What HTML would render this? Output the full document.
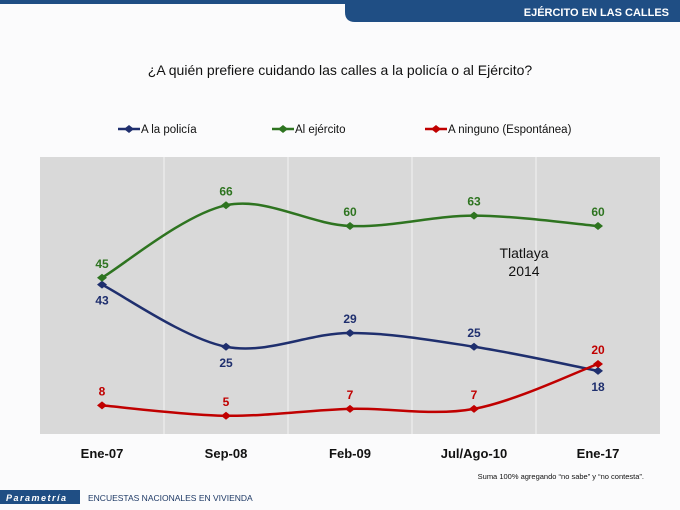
<!DOCTYPE html>
<html><head><meta charset="utf-8"><style>
body{margin:0;width:680px;height:510px;overflow:hidden;background:#fff;font-family:"Liberation Sans",sans-serif;}
svg{position:absolute;left:0;top:0}
</style></head><body>
<svg width="680" height="510">
<rect x="0" y="0" width="680" height="510" fill="#fbfbfc"/>
<rect x="0" y="0" width="680" height="4" fill="#1f4e84"/>
<path d="M345 0 H680 V22 H355 Q345 22 345 12 Z" fill="#1f4e84"/>
<text x="669" y="16" text-anchor="end" font-size="11" font-weight="bold" fill="#fff">EJÉRCITO EN LAS CALLES</text>
<text x="340" y="75" text-anchor="middle" font-size="14" fill="#111">¿A quién prefiere cuidando las calles a la policía o al Ejército?</text>
<g id="legend"></g>
<rect x="40" y="157" width="620" height="277" fill="#d9d9d9"/>
<g id="grid"></g><g id="series"></g><g id="xlabels"></g>
<text x="524" y="258" text-anchor="middle" font-size="14" fill="#111">Tlatlaya</text>
<text x="524" y="276" text-anchor="middle" font-size="14" fill="#111">2014</text>
<text x="644" y="479" text-anchor="end" font-size="7.5" fill="#111">Suma 100% agregando “no sabe” y “no contesta”.</text>
<rect x="0" y="490" width="80" height="14" fill="#1f4e84"/>
<text x="6" y="501" font-size="9" font-style="italic" font-weight="bold" fill="#fff" letter-spacing="1.5">Parametría</text>
<text x="88" y="501" font-size="8.5" fill="#1f3a66">ENCUESTAS NACIONALES EN VIVIENDA</text>
</svg>
<script>
const categories=["Ene-07","Sep-08","Feb-09","Jul/Ago-10","Ene-17"];
const seriesNames=["A la policía","Al ejército","A ninguno (Espontánea)"];
const policia=[43,25,29,25,18];
const ejercito=[45,66,60,63,60];
const ninguno=[8,5,7,7,20];
const colors=["#1f2f6e","#2e7420","#c00000"];
const NS="http://www.w3.org/2000/svg";
const X0=40,X1=660,Y0=157,Y1=433,VMAX=80;
const bw=(X1-X0)/categories.length;
const xs=i=>X0+bw*(i+0.5);
const ys=v=>Y1-(v/VMAX)*(Y1-Y0);
function mk(t,a,p){const e=document.createElementNS(NS,t);for(const k in a)e.setAttribute(k,a[k]);p.appendChild(e);return e;}
const grid=document.getElementById('grid');
for(let i=1;i<categories.length;i++){const l=mk('line',{x1:X0+bw*i,x2:X0+bw*i,y1:Y0,y2:Y1+1,stroke:'#f4f4f4','stroke-width':1},grid);

}
const xl=document.getElementById('xlabels');
categories.forEach((c,i)=>{const t=mk('text',{x:xs(i),y:458,'text-anchor':'middle','font-size':13,'font-weight':'bold',fill:'#111'},xl);t.textContent=c;

});
const data=[policia,ejercito,ninguno];
const lblOff=[[1,1,-1,-1,1],[-1,-1,-1,-1,-1],[-1,-1,-1,-1,-1]];
const sg=document.getElementById('series');
data.forEach((arr,s)=>{
 const pts=arr.map((v,i)=>[xs(i),ys(v)]);
 let d=`M${pts[0][0]},${pts[0][1]}`;
 for(let i=0;i<pts.length-1;i++){const p0=pts[i-1]||pts[i],p1=pts[i],p2=pts[i+1],p3=pts[i+2]||p2;
  d+=` C${p1[0]+(p2[0]-p0[0])/6},${p1[1]+(p2[1]-p0[1])/6} ${p2[0]-(p3[0]-p1[0])/6},${p2[1]-(p3[1]-p1[1])/6} ${p2[0]},${p2[1]}`;}
 const path=mk('path',{d:d,fill:'none',stroke:colors[s],'stroke-width':2.5},sg);
 
 
 pts.forEach((p,i)=>{
  const m=mk('path',{d:`M${p[0]-5},${p[1]} L${p[0]},${p[1]-4} L${p[0]+5},${p[1]} L${p[0]},${p[1]+4}Z`,fill:colors[s]},sg);
  
  
  const o=lblOff[s][i];
  const t=mk('text',{x:p[0],y:o<0?p[1]-10:p[1]+20,'text-anchor':'middle','font-size':12,'font-weight':'bold',fill:colors[s]},sg);
  t.textContent=arr[i];
  
  
 });
});
const lg=document.getElementById('legend');
const lx=[118,272,425];
seriesNames.forEach((n,s)=>{
 const l=mk('line',{x1:lx[s],x2:lx[s]+22,y1:129,y2:129,stroke:colors[s],'stroke-width':2.5},lg);
 
 
 const m=mk('path',{d:`M${lx[s]+6},129 L${lx[s]+11},125 L${lx[s]+16},129 L${lx[s]+11},133Z`,fill:colors[s]},lg);
 
 
 const t=mk('text',{x:lx[s]+23,y:133,'font-size':11.5,fill:'#111'},lg);t.textContent=n;
 
 
});
</script>
</body></html>
